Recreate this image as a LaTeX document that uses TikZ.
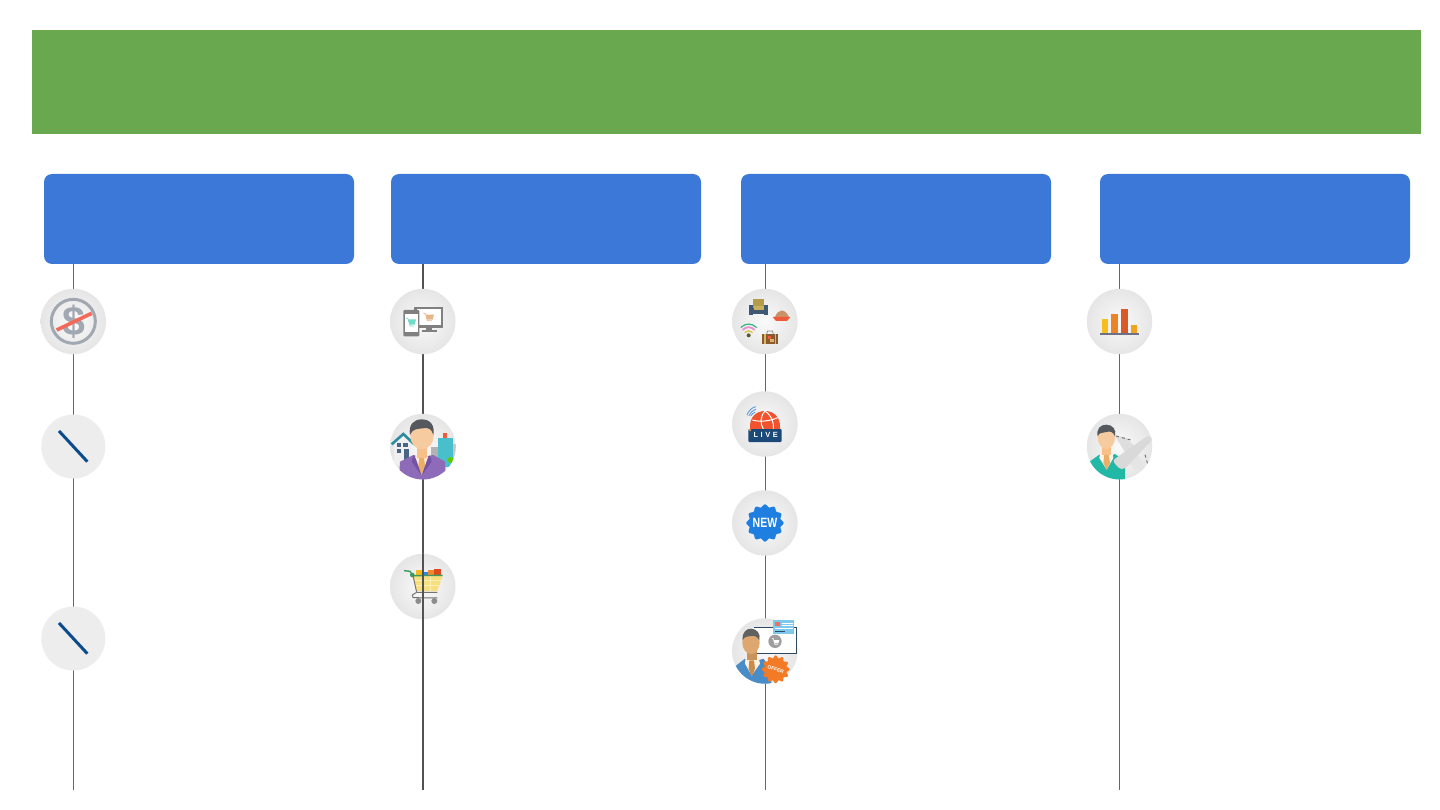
\documentclass[tikz,border=0pt]{standalone}
\usepackage{fontspec}
\setmainfont{Liberation Sans}
\definecolor{bannergreen}{HTML}{6AA84F}
\definecolor{headblue}{HTML}{3C78D8}
\definecolor{ringgray}{HTML}{A2A8B1}
\definecolor{slashblue}{HTML}{0B4A8C}
\definecolor{skin}{HTML}{F7CBA0}
\definecolor{hairdark}{HTML}{55585C}
\definecolor{tealbody}{HTML}{22B8A6}
\definecolor{strikered}{HTML}{F4685A}
\definecolor{suitpurple}{HTML}{8E6BB8}
\definecolor{lapelpurple}{HTML}{7452A6}
\definecolor{newblue}{HTML}{1E7FE0}
\definecolor{baseslate}{HTML}{6B7186}
\definecolor{towerteal}{HTML}{48BFCB}
\definecolor{roofteal}{HTML}{2E8CA0}
\definecolor{winblue}{HTML}{4A6488}
\definecolor{tieorange}{HTML}{EBAE66}
\definecolor{basket}{HTML}{F6DF7C}
\definecolor{basketline}{HTML}{FBEFB8}
\definecolor{railgreen}{HTML}{3C9A5F}
\definecolor{itemyellow}{HTML}{F5B921}
\definecolor{itemblue}{HTML}{2E86DE}
\definecolor{itemorange}{HTML}{EE8A2D}
\definecolor{itemred}{HTML}{DF4A1D}
\definecolor{chairgold}{HTML}{B39B4A}
\definecolor{chairgoldlt}{HTML}{C7B05E}
\definecolor{chairblue}{HTML}{3F5873}
\definecolor{dishred}{HTML}{EE5A3A}
\definecolor{dishfood}{HTML}{C99268}
\definecolor{wifigreen}{HTML}{35B57E}
\definecolor{wifipink}{HTML}{F08BD0}
\definecolor{wifiyellow}{HTML}{D8C23A}
\definecolor{wifidot}{HTML}{5A5A28}
\definecolor{casebrown}{HTML}{8A5A30}
\definecolor{casetan}{HTML}{D9B765}
\definecolor{domered}{HTML}{F0532D}
\definecolor{bandnavy}{HTML}{1B4A78}
\definecolor{wifiblue}{HTML}{5A9BD8}
\definecolor{offerblue}{HTML}{4A8CC7}
\definecolor{offerskin}{HTML}{DDA76F}
\definecolor{offerneck}{HTML}{C9935E}
\definecolor{offertie}{HTML}{C98B4A}
\definecolor{offerorange}{HTML}{F47B25}
\definecolor{framenavy}{HTML}{2E4A62}
\definecolor{cardcyan}{HTML}{7EC8EE}
\definecolor{cardchip}{HTML}{F0705A}
\definecolor{barorange}{HTML}{EC8426}
\definecolor{barred}{HTML}{D95A27}
\definecolor{baryellow}{HTML}{F5BE1E}
\definecolor{barlast}{HTML}{F0A31E}
\definecolor{cartteal}{HTML}{6FDCC6}
\definecolor{carttan}{HTML}{E7B78C}
\tikzset{
  banner/.style={fill=bannergreen,draw=none},
  headbox/.style={fill=headblue,draw=none,rounded corners=8pt},
  conn/.style={draw=black!60,line width=1pt},
  connthick/.style={draw=black!68,line width=2pt},
  iconbg/.style={circle,minimum size=65.4pt,inner sep=0pt,outer sep=0pt,draw=none,inner color=black!2,outer color=black!10},
  iconflat/.style={circle,minimum size=64pt,inner sep=0pt,outer sep=0pt,draw=none,fill=black!7},
  zoomed/.style={x=0.33333pt,y=-0.33333pt},
  lbl/.style={inner sep=0pt,text=white,font=\bfseries},
}
\begin{document}
\begin{tikzpicture}[x=1pt,y=-1pt]
\useasboundingbox (0,0) rectangle (1440,810);
\fill[white] (0,0) rectangle (1440,810);

% banner and header boxes
\path[banner] (32,30) rectangle (1421,134);
\node[headbox,minimum width=310pt,minimum height=90pt,inner sep=0pt,outer sep=0pt] (h1) at (199,219) {};
\node[headbox,minimum width=310pt,minimum height=90pt,inner sep=0pt,outer sep=0pt] (h2) at (546,219) {};
\node[headbox,minimum width=310pt,minimum height=90pt,inner sep=0pt,outer sep=0pt] (h3) at (896,219) {};
\node[headbox,minimum width=310pt,minimum height=90pt,inner sep=0pt,outer sep=0pt] (h4) at (1255,219) {};

% free ends of connectors
\coordinate (e1) at (73.3,790);
\coordinate (e2) at (422.8,790);
\coordinate (e3) at (765.5,790);
\coordinate (e4) at (1119.5,790);

% positions of the icon discs
\coordinate (c11) at (73.3,321.5);
\coordinate (c12) at (73.3,446.5);
\coordinate (c13) at (73.3,638.5);
\coordinate (c21) at (422.8,321.5);
\coordinate (c22) at (422.8,446.5);
\coordinate (c23) at (422.8,586.5);
\coordinate (c31) at (765.5,321.5);
\coordinate (c32) at (765.5,424);
\coordinate (c33) at (765.5,523);
\coordinate (c34) at (765.5,651);
\coordinate (c41) at (1119.5,321.5);
\coordinate (c42) at (1119.5,446.5);

% connectors
\draw[conn] (c11 |- h1.south) -- (c11);
\draw[conn] (c11) -- (c12);
\draw[conn] (c12) -- (c13);
\draw[conn] (c13) -- (e1);
\draw[connthick] (c21 |- h2.south) -- (c21);
\draw[connthick] (c21) -- (c22);
\draw[connthick] (c22) -- (c23);
\draw[conn] (c31 |- h3.south) -- (c31);
\draw[conn] (c31) -- (c32);
\draw[conn] (c32) -- (c33);
\draw[conn] (c33) -- (c34);
\draw[conn] (c34) -- (e3);
\draw[conn] (c41 |- h4.south) -- (c41);
\draw[conn] (c41) -- (c42);
\draw[conn] (c42) -- (e4);

% discs above the connectors
\node[iconbg]   (d11) at (c11) {};
\node[iconflat] (d12) at (c12) {};
\node[iconflat] (d13) at (c13) {};
\node[iconbg]   (d21) at (c21) {};
\node[iconbg]   (d22) at (c22) {};
\node[iconbg]   (d23) at (c23) {};
\node[iconbg,xshift=-.6pt]   (d31) at (c31) {};
\node[iconbg,xshift=-.6pt]   (d32) at (c32) {};
\node[iconbg,xshift=-.6pt]   (d33) at (c33) {};
\node[iconbg,xshift=-.6pt]   (d34) at (c34) {};
\node[iconbg]   (d41) at (c41) {};
\node[iconbg]   (d42) at (c42) {};

% --- column 1 icons
\begin{scope}[shift={(30,280)},zoomed]
  \draw[ringgray,line width=3pt] (130,124) circle (66);
  \node[inner sep=0pt,text=ringgray,font=\bfseries\fontsize{41}{41}\selectfont] (dollar) at (132,124) {\$};
  \draw[strikered,line width=3.6pt] (80,150) -- (185,100);
  \draw[slashblue,line width=3pt] (87,453) -- (172,545);
\end{scope}
\begin{scope}[shift={(30,472)},zoomed]
  \draw[slashblue,line width=3pt] (87,453) -- (172,545);
\end{scope}

% --- column 2, devices
\begin{scope}[shift={(380,280)},zoomed]
  \fill[black!50] (103,81) rectangle (188,143);
  \fill[white] (110,88) rectangle (184,135);
  \fill[black!50] (137,143) rectangle (155,150);
  \fill[black!50] (127,150) rectangle (170,155);
  \fill[black!50,rounded corners=1pt] (70,90) rectangle (118,169);
  \fill[white] (74,103) rectangle (114,155);
  \draw[cartteal,line width=.7pt] (78,114) -- (84,116) -- (90,138) -- (102,138);
  \fill[cartteal] (84,118) -- (108,118) -- (104,134) -- (89,134) -- cycle;
  \draw[carttan,line width=.7pt] (130,99) -- (137,102) -- (142,122) -- (156,122);
  \fill[carttan] (137,104) -- (162,104) -- (158,119) -- (141,119) -- cycle;
\end{scope}

% --- column 2, person with buildings
\begin{scope}
  \clip (c22) circle (33pt);
  \begin{scope}[shift={(380,405)},zoomed]
    \fill[black!30] (152,125) rectangle (178,190);
    \fill[black!22] (210,118) rectangle (230,190);
    \fill[towerteal] (175,100) rectangle (218,185);
    \fill[dishred] (190,85) rectangle (200,100);
    \fill[green!55!yellow!80!black] (212,165) circle (9);
    \fill[black!6] (42,118) -- (70,92) -- (95,118) -- (95,180) -- (42,180) -- cycle;
    \draw[roofteal,line width=2.6pt] (35,118) -- (70,87) -- (103,118);
    \fill[winblue] (50,115) rectangle (64,125);
    \fill[winblue] (70,115) rectangle (84,125);
    \fill[winblue] (50,131) rectangle (64,143);
    \fill[winblue] (72,131) rectangle (86,170);
    \fill[suitpurple] (57,225) -- (60,170) -- (100,150) -- (125,158) -- (160,150) -- (195,170) -- (198,225) -- cycle;
    \fill[white!85!orange] (108,150) -- (140,150) -- (150,170) -- (125,205) -- (100,170) -- cycle;
    \fill[tieorange] (118,158) -- (132,158) -- (136,190) -- (125,212) -- (114,190) -- cycle;
    \fill[skin!85!orange] (110,125) rectangle (140,160);
    \fill[skin] (126,93) ellipse (35 and 40);
    \fill[hairdark] (90,90) .. controls (85,60) and (100,43) .. (125,43) .. controls (152,43) and (165,62) .. (160,90) .. controls (155,72) and (145,66) .. (128,70) .. controls (110,72) and (97,72) .. (90,90) -- cycle;
    \fill[lapelpurple] (100,150) -- (95,170) -- (125,212) -- (107,160) -- cycle;
    \fill[lapelpurple] (150,150) -- (155,170) -- (125,212) -- (143,160) -- cycle;
  \end{scope}
\end{scope}

% --- column 2, cart
\begin{scope}[shift={(380,545)},zoomed]
  \fill[itemyellow] (108,75) rectangle (125,92);
  \fill[itemblue] (132,80) rectangle (145,92);
  \fill[itemorange] (145,75) rectangle (162,92);
  \fill[itemred] (162,72) rectangle (183,92);
  \fill[basket] (100,92) -- (188,92) -- (172,138) -- (110,138) -- cycle;
  \draw[basketline,line width=.5pt] (104,107) -- (183,107) (108,122) -- (178,122) (130,92) -- (130,138) (152,92) -- (152,138);
  \draw[railgreen,line width=1.4pt] (72,77) -- (90,79) -- (99,92) -- (188,91);
  \fill[railgreen] (97,90) circle (7);
  \draw[black!55,line width=1pt] (99,92) -- (110,142) -- (172,142);
  \draw[black!55,line width=1pt] (108,143) -- (97,150) -- (99,158) -- (172,159);
  \fill[black!45] (115,168) circle (9);
  \fill[black!45] (163,168) circle (9);
\end{scope}
% the thick line crosses the cart and runs on to the bottom
\draw[connthick] (d23.north) -- (e2);

% --- column 3, amenities
\begin{scope}[shift={(725,285)},zoomed]
  \fill[chairgold] (84,42) rectangle (118,70);
  \fill[chairblue] (72,60) rectangle (84,90);
  \fill[chairblue] (118,60) rectangle (130,90);
  \fill[chairblue] (84,70) rectangle (118,88);
  \fill[chairgoldlt] (86,64) rectangle (116,74);
  \fill[dishfood] (150,96) .. controls (160,70) and (180,70) .. (192,96) -- cycle;
  \fill[dishred] (143,96) -- (196,96) -- (186,108) -- (153,108) -- cycle;
  \draw[wifigreen,line width=1.2pt,line cap=round] (48,127) .. controls (62,114) and (80,114) .. (94,127);
  \draw[wifipink,line width=1.8pt,line cap=round] (54,134) .. controls (64,124) and (78,124) .. (88,134);
  \draw[wifiyellow,line width=1.2pt,line cap=round] (60,142) .. controls (66,136) and (76,136) .. (82,142);
  \fill[wifidot] (71,151) circle (6);
  \draw[black!45,line width=.8pt] (125,146) -- (128,138) -- (142,138) -- (145,146);
  \fill[casebrown] (111,146) rectangle (160,178);
  \fill[casetan] (118,146) rectangle (123,178);
  \fill[casetan] (149,146) rectangle (154,178);
  \fill[dishred] (128,154) rectangle (138,162);
  \fill[casetan] (136,162) rectangle (146,170);
\end{scope}

% --- column 3, live
\begin{scope}[shift={(725,385)},zoomed]
  \fill[domered] (75,132) .. controls (72,95) and (95,78) .. (120,78) .. controls (145,78) and (168,95) .. (165,132) -- cycle;
  \draw[white,line width=1pt] (120,78) .. controls (105,95) and (105,115) .. (115,132) (120,78) .. controls (140,92) and (148,115) .. (145,132) (82,105) .. controls (105,112) and (135,108) .. (158,98);
  \draw[wifiblue,line width=.9pt,line cap=round] (66,90) .. controls (70,78) and (80,68) .. (92,65);
  \draw[wifiblue,line width=.9pt,line cap=round] (72,92) .. controls (75,84) and (82,76) .. (92,73);
  \draw[wifiblue,line width=.9pt,line cap=round] (78,92) .. controls (80,88) and (84,84) .. (90,82);
  \fill[bandnavy,rounded corners=1pt] (70,132) rectangle (170,171);
  \fill[itemorange] (75,135) circle (4);
  \node[lbl,font=\bfseries\fontsize{7.5}{7.5}\selectfont] (livetxt) at (122,150) {L\,\,I\,\,V\,\,E};
\end{scope}

% --- column 3, new
\begin{scope}[shift={(725,485)},zoomed]
  \fill[newblue] plot[smooth cycle,samples=97,domain=0:356.25,variable=\t] ({120+(52+4*cos(12*\t))*cos(\t)},{114+(52+4*cos(12*\t))*sin(\t)});
  \node[lbl,xscale=.78,transform shape,font=\bfseries\fontsize{13.5}{13.5}\selectfont] (newtxt) at (120,114) {NEW};
\end{scope}

% --- column 3, offer person
\begin{scope}
  \begin{scope}[shift={(725,612)},zoomed]
    \fill[white] (88,47) rectangle (215,125);
    \draw[framenavy,line width=1.3pt] (88,47) -- (215,47) -- (215,125) -- (95,125);
    \fill[black!38] (150,88) circle (20);
    \draw[white,line width=.6pt] (140,78) -- (145,80) -- (150,98) -- (160,98);
    \fill[white] (146,84) -- (163,84) -- (160,94) -- (149,94) -- cycle;
    \fill[cardcyan] (145,25) rectangle (208,67);
    \fill[cardchip] (150,30) rectangle (165,42);
    \draw[white,line width=.7pt] (170,33) -- (204,33) (170,40) -- (204,40) (150,50) -- (204,50);
    \draw[framenavy,line width=.6pt] (150,58) -- (180,58);
  \end{scope}
  \begin{scope}
    \clip (d34) circle (32.7pt);
    \begin{scope}[shift={(725,612)},zoomed]
      \fill[offerblue] (25,225) -- (28,165) -- (60,140) -- (85,150) -- (115,140) -- (135,165) -- (140,225) -- cycle;
      \fill[white!88!orange] (62,135) -- (100,135) -- (105,155) -- (80,190) -- (60,155) -- cycle;
      \fill[offertie] (73,145) -- (87,145) -- (90,170) -- (80,195) -- (71,170) -- cycle;
      \fill[offerneck] (65,115) rectangle (95,145);
      \fill[offerskin] (78,92) ellipse (26 and 34);
    \end{scope}
  \end{scope}
  \begin{scope}[shift={(725,612)},zoomed]
    \fill[black!62] (53,85) .. controls (50,60) and (65,50) .. (78,50) .. controls (95,50) and (108,65) .. (103,85) .. controls (98,75) and (90,70) .. (78,72) .. controls (68,73) and (58,73) .. (53,85) -- cycle;
    \fill[offerorange] plot[smooth cycle,samples=97,domain=0:356.25,variable=\t] ({152+(38+4*cos(12*\t))*cos(\t)},{172+(38+4*cos(12*\t))*sin(\t)});
    \node[lbl,rotate=-20,transform shape,font=\bfseries\fontsize{5}{5}\selectfont] (offertxt) at (152,172) {OFFER};
  \end{scope}
\end{scope}

% --- column 4, chart
\begin{scope}[shift={(1080,285)},zoomed]
  \fill[baryellow] (65,102) rectangle (85,145);
  \fill[barorange] (94,87) rectangle (114,145);
  \fill[barred] (124,72) rectangle (144,145);
  \fill[barlast] (152,120) rectangle (172,145);
  \fill[baseslate] (60,145) rectangle (176,150);
\end{scope}

% --- column 4, person with plane
\begin{scope}
  \clip (c42) circle (33pt);
  \begin{scope}[shift={(1080,408)},zoomed]
    \fill[black!13] (105,85) -- (135,87) -- (175,125) -- (140,140) -- cycle;
    \draw[black!55,dashed,line width=1pt] (108,84) -- (152,96);
    \draw[black!55,dashed,line width=1pt] (195,140) -- (205,175);
    \fill[tealbody] (28,215) -- (30,160) -- (58,140) -- (80,150) -- (105,138) -- (135,160) -- (135,215) -- cycle;
    \fill[white!90!orange] (62,130) -- (96,130) -- (100,150) -- (80,185) -- (58,150) -- cycle;
    \fill[tieorange] (73,140) -- (86,140) -- (90,165) -- (80,185) -- (70,165) -- cycle;
    \fill[skin!85!orange] (66,110) rectangle (92,142);
    \fill[skin] (79,88) ellipse (26 and 35);
    \fill[hairdark] (53,85) .. controls (48,62) and (62,50) .. (79,50) .. controls (98,50) and (110,65) .. (105,85) .. controls (100,72) and (90,68) .. (80,72) .. controls (68,75) and (58,72) .. (53,85) -- cycle;
    \fill[black!10] (140,160) -- (165,185) -- (195,182) -- (172,135) -- cycle;
    \fill[black!15,rounded corners=3pt] (97,158) -- (205,82) -- (220,92) -- (135,182) -- (120,184) -- cycle;
  \end{scope}
\end{scope}
\end{tikzpicture}
\end{document}
